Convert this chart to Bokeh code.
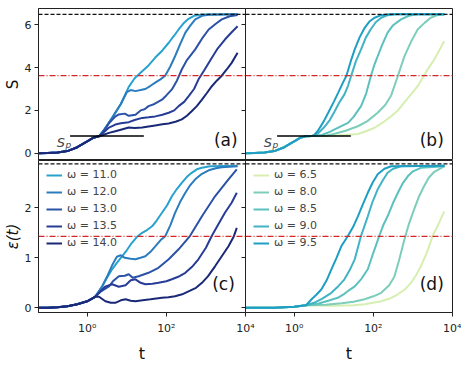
import numpy as np
from bokeh.plotting import figure
from bokeh.layouts import column, row
from bokeh.models import Range1d, FixedTicker, CustomJSTickFormatter, Span, Label
from bokeh.embed import file_html
from bokeh.resources import INLINE

FONT = "DejaVu Sans"

# ---------------- data (log10 t, value) ----------------
# panel (a): S(t), omega = 11 .. 14
lt_S0 = [-1.23, -1.0, -0.75, -0.5, -0.25, 0.0, 0.15, 0.3]
S0 = [0.0, 0.01, 0.03, 0.10, 0.28, 0.55, 0.72, 0.79]

lt_a_110 = [0.45, 0.63, 0.85, 1.05, 1.2, 1.39, 1.55, 1.72, 1.9, 2.06, 2.2, 2.31, 2.45, 2.56, 2.7, 2.9, 3.8]
S_a_110 = [1.15, 1.65, 2.3, 3.1, 3.5, 3.83, 4.1, 4.47, 4.8, 5.16, 5.5, 5.78, 6.1, 6.28, 6.42, 6.48, 6.49]
lt_a_120 = [0.45, 0.63, 0.85, 1.0, 1.1, 1.22, 1.35, 1.47, 1.6, 1.72, 1.85, 1.97, 2.1, 2.22, 2.35, 2.48, 2.6, 2.73, 2.9, 3.07, 3.8]
S_a_120 = [1.15, 1.65, 2.3, 2.85, 2.95, 2.9, 2.95, 3.0, 3.15, 3.3, 3.45, 3.62, 4.05, 4.53, 5.1, 5.63, 5.95, 6.25, 6.42, 6.47, 6.49]
lt_a_130 = [0.4, 0.55, 0.7, 0.8, 0.95, 1.05, 1.22, 1.35, 1.45, 1.55, 1.7, 1.89, 2.0, 2.14, 2.27, 2.39, 2.52, 2.73, 2.9, 3.07, 3.25, 3.4, 3.6, 3.8]
S_a_130 = [1.0, 1.4, 1.7, 1.81, 1.85, 1.75, 1.8, 2.0, 2.05, 2.2, 2.3, 2.5, 2.7, 2.98, 3.4, 3.91, 4.35, 4.85, 5.35, 5.78, 6.05, 6.25, 6.4, 6.46]
lt_a_135 = [0.4, 0.55, 0.71, 0.85, 1.05, 1.2, 1.39, 1.55, 1.72, 1.9, 2.06, 2.2, 2.31, 2.45, 2.56, 2.7, 2.81, 2.95, 3.15, 3.3, 3.48, 3.65, 3.8]
S_a_135 = [0.95, 1.2, 1.34, 1.4, 1.45, 1.55, 1.65, 1.68, 1.72, 1.8, 1.89, 2.0, 2.2, 2.4, 2.66, 3.0, 3.44, 3.85, 4.46, 4.9, 5.31, 5.65, 5.93]
lt_a_140 = [0.4, 0.55, 0.71, 0.85, 1.05, 1.2, 1.39, 1.55, 1.72, 1.9, 2.06, 2.25, 2.39, 2.52, 2.64, 2.77, 2.9, 3.02, 3.15, 3.28, 3.4, 3.52, 3.65, 3.8]
S_a_140 = [0.85, 0.95, 1.03, 1.1, 1.2, 1.18, 1.2, 1.25, 1.3, 1.35, 1.39, 1.48, 1.58, 1.75, 1.96, 2.2, 2.5, 2.8, 3.13, 3.4, 3.62, 3.9, 4.22, 4.69]

# panel (b): S(t), omega = 6.5 .. 9.5
lt_S0b = [-1.23, -1.0, -0.75, -0.5, -0.25, 0.0, 0.15, 0.3, 0.45]
S0b = [0.0, 0.01, 0.03, 0.10, 0.28, 0.55, 0.72, 0.79, 0.81]

lt_b_65 = [0.8, 1.0, 1.3, 1.61, 1.85, 2.03, 2.25, 2.45, 2.62, 2.78, 2.95, 3.12, 3.24, 3.4, 3.54, 3.79]
S_b_65 = [0.8, 0.82, 0.85, 0.9, 1.05, 1.19, 1.45, 1.73, 2.0, 2.36, 2.75, 3.13, 3.5, 4.0, 4.38, 5.23]
lt_b_80 = [0.8, 1.0, 1.3, 1.61, 1.85, 2.11, 2.3, 2.45, 2.6, 2.78, 2.95, 3.12, 3.3, 3.45, 3.6, 3.79]
S_b_80 = [0.82, 0.9, 1.05, 1.26, 1.5, 1.89, 2.25, 2.7, 3.5, 4.5, 5.2, 5.78, 6.1, 6.33, 6.44, 6.49]
lt_b_85 = [0.7, 0.9, 1.1, 1.36, 1.5, 1.69, 1.82, 1.94, 2.02, 2.11, 2.22, 2.36, 2.5, 2.7, 2.9, 3.1, 3.8]
S_b_85 = [0.85, 1.0, 1.18, 1.42, 1.7, 2.2, 2.8, 3.62, 4.1, 4.53, 5.05, 5.63, 5.98, 6.25, 6.42, 6.49, 6.49]
lt_b_90 = [0.6, 0.75, 0.9, 1.02, 1.15, 1.27, 1.36, 1.44, 1.56, 1.69, 1.81, 1.94, 2.06, 2.2, 2.36, 2.55, 3.8]
S_b_90 = [0.92, 1.2, 1.55, 1.95, 2.4, 2.75, 3.15, 3.62, 4.3, 4.85, 5.4, 5.8, 6.12, 6.33, 6.45, 6.49, 6.49]
lt_b_95 = [0.5, 0.6, 0.75, 0.86, 1.0, 1.11, 1.22, 1.32, 1.43, 1.53, 1.65, 1.78, 1.9, 2.03, 2.2, 2.4, 3.8]
S_b_95 = [0.83, 1.05, 1.5, 1.89, 2.4, 2.82, 3.25, 3.62, 4.3, 4.85, 5.4, 5.86, 6.15, 6.33, 6.45, 6.49, 6.49]

# panel (c): eps(t), omega = 11 .. 14
lt_E0 = [-1.23, -1.0, -0.75, -0.5, -0.25, 0.0, 0.2]
E0 = [0.0, 0.0, 0.01, 0.03, 0.07, 0.13, 0.22]

lt_c_110 = [0.38, 0.5, 0.63, 0.75, 0.88, 1.0, 1.13, 1.26, 1.39, 1.52, 1.64, 1.76, 1.89, 2.02, 2.14, 2.27, 2.39, 2.52, 2.64, 2.77, 2.9, 3.1, 3.8]
E_c_110 = [0.43, 0.6, 0.77, 0.9, 1.03, 1.15, 1.3, 1.42, 1.5, 1.56, 1.63, 1.75, 1.9, 2.05, 2.23, 2.38, 2.5, 2.62, 2.7, 2.77, 2.8, 2.83, 2.84]
lt_c_120 = [0.38, 0.5, 0.63, 0.75, 0.85, 0.95, 1.1, 1.22, 1.35, 1.47, 1.6, 1.72, 1.85, 1.97, 2.1, 2.22, 2.35, 2.48, 2.6, 2.73, 2.9, 3.07, 3.25, 3.4, 3.8]
E_c_120 = [0.43, 0.62, 0.85, 1.02, 1.05, 1.0, 0.98, 0.97, 1.0, 1.03, 1.12, 1.23, 1.35, 1.43, 1.65, 1.9, 2.12, 2.3, 2.45, 2.57, 2.68, 2.75, 2.79, 2.81, 2.83]
lt_c_130 = [0.35, 0.55, 0.65, 0.8, 0.95, 1.05, 1.15, 1.3, 1.55, 1.8, 2.06, 2.31, 2.6, 2.9, 3.23, 3.57, 3.78]
E_c_130 = [0.33, 0.43, 0.53, 0.63, 0.64, 0.67, 0.6, 0.63, 0.7, 0.8, 0.97, 1.17, 1.44, 1.83, 2.23, 2.57, 2.77]
lt_c_135 = [0.3, 0.45, 0.63, 0.8, 0.97, 1.1, 1.22, 1.35, 1.47, 1.65, 1.8, 2.0, 2.14, 2.3, 2.48, 2.65, 2.81, 3.0, 3.15, 3.3, 3.48, 3.65, 3.78]
E_c_135 = [0.3, 0.42, 0.47, 0.42, 0.45, 0.55, 0.57, 0.5, 0.47, 0.48, 0.5, 0.53, 0.57, 0.62, 0.7, 0.82, 0.97, 1.2, 1.44, 1.65, 1.9, 2.1, 2.3]
lt_c_140 = [0.3, 0.46, 0.6, 0.71, 0.85, 0.97, 1.1, 1.22, 1.4, 1.6, 1.89, 2.05, 2.22, 2.4, 2.56, 2.75, 2.9, 3.05, 3.23, 3.4, 3.57, 3.7, 3.78]
E_c_140 = [0.22, 0.13, 0.1, 0.1, 0.15, 0.17, 0.14, 0.13, 0.15, 0.17, 0.2, 0.21, 0.23, 0.27, 0.33, 0.4, 0.5, 0.63, 0.83, 1.03, 1.23, 1.42, 1.6]

# panel (d): eps(t), omega = 6.5 .. 9.5
lt_E0d = [-1.23, -0.5, 0.0, 0.3]
E0d = [0.0, 0.0, 0.02, 0.05]

lt_d_65 = [1.0, 1.5, 1.78, 2.2, 2.4, 2.62, 2.8, 2.95, 3.08, 3.2, 3.35, 3.5, 3.62, 3.79]
E_d_65 = [0.04, 0.05, 0.07, 0.13, 0.18, 0.27, 0.37, 0.5, 0.65, 0.83, 1.1, 1.44, 1.63, 1.93]
lt_d_80 = [0.8, 1.2, 1.5, 1.78, 2.0, 2.2, 2.4, 2.53, 2.65, 2.78, 2.9, 3.03, 3.15, 3.28, 3.4, 3.54, 3.79]
E_d_80 = [0.06, 0.09, 0.12, 0.17, 0.23, 0.3, 0.45, 0.62, 0.95, 1.35, 1.68, 1.97, 2.22, 2.43, 2.6, 2.72, 2.83]
lt_d_85 = [0.6, 0.9, 1.1, 1.27, 1.4, 1.53, 1.7, 1.86, 2.0, 2.15, 2.25, 2.36, 2.5, 2.62, 2.75, 2.87, 3.0, 3.2, 3.8]
E_d_85 = [0.08, 0.15, 0.2, 0.28, 0.36, 0.43, 0.58, 0.77, 1.1, 1.44, 1.65, 1.83, 2.1, 2.3, 2.5, 2.63, 2.73, 2.8, 2.83]
lt_d_90 = [0.5, 0.7, 0.94, 1.1, 1.27, 1.4, 1.53, 1.69, 1.86, 1.98, 2.11, 2.24, 2.36, 2.5, 2.7, 3.8]
E_d_90 = [0.1, 0.18, 0.3, 0.42, 0.57, 0.75, 0.97, 1.44, 1.83, 2.12, 2.37, 2.55, 2.7, 2.78, 2.83, 2.84]
lt_d_95 = [0.44, 0.56, 0.69, 0.82, 0.94, 1.07, 1.19, 1.36, 1.49, 1.61, 1.74, 1.86, 1.98, 2.11, 2.28, 2.45, 3.8]
E_d_95 = [0.17, 0.26, 0.37, 0.55, 0.77, 1.0, 1.23, 1.44, 1.62, 1.83, 2.08, 2.3, 2.5, 2.67, 2.78, 2.83, 2.84]

omega_left = ["11.0", "12.0", "13.0", "13.5", "14.0"]
omega_right = ["6.5", "8.0", "8.5", "9.0", "9.5"]
colors_left = ["#27a2cf", "#2b7cbf", "#2a52a6", "#273c97", "#1a2977"]
colors_right = ["#d6efb0", "#7ccdb9", "#5cc0bf", "#41b3c5", "#1f9ec4"]

S_max, S_half = 6.49, 3.62
E_max, E_half = 2.88, 1.43
S_p = 0.80
S_p_t = [0.37, 27.0]

S_yticks = [0, 2, 4, 6]
E_yticks = [0, 1, 2]
t_ticks = [1, 100, 10000]

series_a = [(lt_S0 + lt_a_110, S0 + S_a_110), (lt_S0 + lt_a_120, S0 + S_a_120),
            (lt_S0 + lt_a_130, S0 + S_a_130), (lt_S0 + lt_a_135, S0 + S_a_135),
            (lt_S0 + lt_a_140, S0 + S_a_140)]
series_b = [(lt_S0b + lt_b_65, S0b + S_b_65), (lt_S0b + lt_b_80, S0b + S_b_80),
            (lt_S0b + lt_b_85, S0b + S_b_85), (lt_S0b + lt_b_90, S0b + S_b_90),
            (lt_S0b + lt_b_95, S0b + S_b_95)]
series_c = [(lt_E0 + lt_c_110, E0 + E_c_110), (lt_E0 + lt_c_120, E0 + E_c_120),
            (lt_E0 + lt_c_130, E0 + E_c_130), (lt_E0 + lt_c_135, E0 + E_c_135),
            (lt_E0 + lt_c_140, E0 + E_c_140)]
series_d = [(lt_E0d + lt_d_65, E0d + E_d_65), (lt_E0d + lt_d_80, E0d + E_d_80),
            (lt_E0d + lt_d_85, E0d + E_d_85), (lt_E0d + lt_d_90, E0d + E_d_90),
            (lt_E0d + lt_d_95, E0d + E_d_95)]

# ---------------- layout constants ----------------
FW = 207
FH = 152
LB = 30
GAP = 10
X_LO, X_HI = 10 ** -1.23, 10 ** 4.0

sup_js = """
const m = {"0":"\u2070","1":"\u00b9","2":"\u00b2","3":"\u00b3","4":"\u2074","-":"\u207b"};
const e = Math.round(Math.log10(tick));
return "10" + String(e).split("").map(c => m[c]).join("");
"""


def style_axis(ax, label_size="15px"):
    ax.major_tick_out = 4
    ax.major_tick_in = 0
    ax.minor_tick_out = 0
    ax.minor_tick_in = 0
    ax.axis_line_color = "#222222"
    ax.major_tick_line_color = "#222222"
    ax.major_label_text_font = FONT
    ax.major_label_text_font_size = "11px"
    ax.major_label_text_color = "#222222"
    ax.axis_label_text_font = FONT
    ax.axis_label_text_font_size = label_size
    ax.axis_label_text_color = "#111111"
    ax.axis_label_text_font_style = "normal"
    ax.major_label_standoff = 3
    ax.axis_label_standoff = 0


def make_panel(top, left, yr, yticks, ylabel):
    kw = dict(x_axis_type="log", x_range=Range1d(X_LO, X_HI), y_range=Range1d(*yr),
              frame_width=FW, frame_height=FH, output_backend="svg", toolbar_location=None,
              x_axis_location=None if top else "below",
              min_border_top=8 if top else 0,
              min_border_bottom=0 if top else 42,
              min_border_left=LB if left else GAP,
              min_border_right=GAP if left else 9)
    p = figure(**kw)
    p.grid.visible = False
    p.outline_line_color = "#222222"
    p.outline_line_width = 1
    p.yaxis.ticker = FixedTicker(ticks=yticks)
    style_axis(p.yaxis[0])
    if left:
        p.yaxis.axis_label = ylabel
        if ylabel == "\u03b5(t)":
            p.yaxis.axis_label_text_font_style = "italic"
    else:
        p.yaxis.formatter = CustomJSTickFormatter(code="return ''")
        p.yaxis.major_label_standoff = 0
        p.border_fill_color = None
        p.styles = {"margin-left": f"-{2 * GAP}px"}
    if not top:
        ax = p.xaxis[0]
        ax.ticker = FixedTicker(ticks=t_ticks)
        ax.formatter = CustomJSTickFormatter(code=sup_js)
        style_axis(ax, "16px")
        ax.axis_label = "t"
        ax.major_label_standoff = 5
        ax.axis_label_standoff = 6
    return p


def add_lines(p, series, colors, names, legend):
    for (lt, y), c, n in zip(series, colors, names):
        t = 10 ** np.array(lt)
        if legend:
            p.line(t, y, line_color=c, line_width=2, legend_label=f"\u03c9 = {n}")
        else:
            p.line(t, y, line_color=c, line_width=2)


def add_refs(p, ymax, yhalf):
    p.add_layout(Span(location=ymax, dimension="width", line_color="#111111",
                      line_dash="4 2", line_width=1.2))
    p.add_layout(Span(location=yhalf, dimension="width", line_color="#d62728",
                      line_dash="6 2 1 2", line_width=1.2))


def add_sp(p, xs, xp):
    p.line(S_p_t, [S_p, S_p], line_color="black", line_width=1.5)
    p.add_layout(Label(x=10 ** xs, y=0.51, text="S", text_font=FONT, text_font_size="13px",
                       text_font_style="italic", text_align="left", text_baseline="alphabetic"))
    p.add_layout(Label(x=10 ** xp, y=0.40, text="p", text_font=FONT, text_font_size="9px",
                       text_font_style="italic", text_align="left", text_baseline="alphabetic"))


def add_tag(p, text, xl, y):
    p.add_layout(Label(x=10 ** xl, y=y, text=text, text_font=FONT, text_font_size="17px",
                       text_align="right", text_baseline="bottom", text_color="#111111"))


def style_legend(p):
    lg = p.legend[0]
    lg.location = "top_left"
    lg.label_text_font = FONT
    lg.label_text_font_size = "11px"
    lg.glyph_width = 16
    lg.glyph_height = 12
    lg.label_height = 12
    lg.label_standoff = 5
    lg.spacing = 4
    lg.padding = 6
    lg.margin = 2
    lg.background_fill_alpha = 0
    lg.border_line_alpha = 0


pa = make_panel(True, True, (-0.34, 6.76), S_yticks, "S")
pb = make_panel(True, False, (-0.34, 6.76), S_yticks, "S")
pc = make_panel(False, True, (-0.094, 2.946), E_yticks, "\u03b5(t)")
pd = make_panel(False, False, (-0.094, 2.946), E_yticks, "\u03b5(t)")

add_lines(pa, series_a, colors_left, omega_left, False)
add_lines(pb, series_b, colors_right, omega_right, False)
add_lines(pc, series_c, colors_left, omega_left, True)
add_lines(pd, series_d, colors_right, omega_right, True)

add_refs(pa, S_max, S_half)
add_refs(pb, S_max, S_half)
add_refs(pc, E_max, E_half)
add_refs(pd, E_max, E_half)

add_sp(pa, -0.77, -0.55)
add_sp(pb, -0.77, -0.55)

add_tag(pa, "(a)", 3.8, 0.17)
add_tag(pb, "(b)", 3.78, 0.17)
add_tag(pc, "(c)", 3.73, 0.27)
add_tag(pd, "(d)", 3.78, 0.27)

style_legend(pc)
style_legend(pd)

layout = column(row(pa, pb), row(pc, pd))

open("out.html", "w").write(file_html(layout, INLINE))
